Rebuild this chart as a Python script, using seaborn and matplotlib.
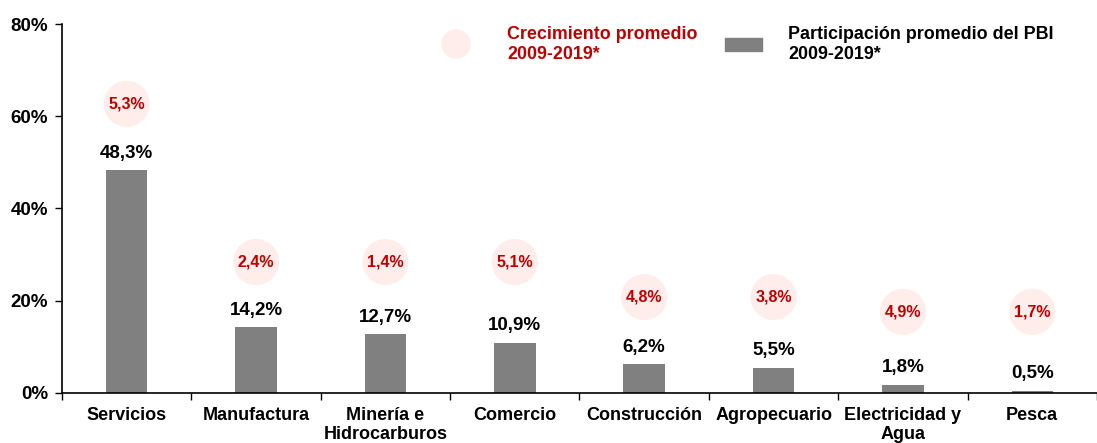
import matplotlib
matplotlib.use("Agg")
import matplotlib.pyplot as plt
import seaborn as sns
import pandas as pd
from matplotlib.ticker import FixedLocator, PercentFormatter
from matplotlib.patches import Rectangle

categories = ["Servicios", "Manufactura", "Minería e\nHidrocarburos", "Comercio",
              "Construcción", "Agropecuario", "Electricidad y\nAgua", "Pesca"]
participacion = [48.3, 14.2, 12.7, 10.9, 6.2, 5.5, 1.8, 0.5]
crecimiento = [5.3, 2.4, 1.4, 5.1, 4.8, 3.8, 4.9, 1.7]
# vertical placement of the growth bubbles (in % units of the axis)
bubble_y = [62.7, 28.4, 28.4, 28.4, 20.8, 20.8, 17.6, 17.6]

def fmt(v):
    return f"{v:.1f}%".replace(".", ",")

sns.set_theme(style="white")
plt.rcParams["font.family"] = ["Liberation Sans", "DejaVu Sans"]
plt.rcParams["font.weight"] = "bold"
plt.rcParams["text.color"] = "black"
plt.rcParams["xtick.color"] = "black"
plt.rcParams["ytick.color"] = "black"

GRAY = "#808080"
PINK = "#FEEDEB"
RED = "#C00000"

df = pd.DataFrame({"cat": categories, "part": participacion,
                   "crec": crecimiento, "by": bubble_y})

fig = plt.figure(figsize=(10.97, 4.43), dpi=100)
ax = fig.add_axes([0.0565, 0.1129, 0.9435, 0.8329])

sns.barplot(data=df, x="cat", y="part", color=GRAY, width=0.32, ax=ax,
            saturation=1, edgecolor="none")
sns.scatterplot(data=df, x="cat", y="by", s=1100, color=PINK, edgecolor="none",
                ax=ax, legend=False, zorder=3)

for i, (p, c, b) in enumerate(zip(participacion, crecimiento, bubble_y)):
    ax.annotate(fmt(p), (i, p), xytext=(0, 6), textcoords="offset points",
                ha="center", va="bottom", fontsize=13.5, fontweight="bold", color="black")
    ax.text(i, b, fmt(c), ha="center", va="center", fontsize=11.5,
            fontweight="bold", color=RED, zorder=4)

ax.set_xlim(-0.5, 7.5)
ax.set_ylim(0, 80)
ax.yaxis.set_major_locator(FixedLocator([0, 20, 40, 60, 80]))
ax.yaxis.set_major_formatter(PercentFormatter(decimals=0))
ax.set_xlabel("")
ax.set_ylabel("")

ax.tick_params(axis="x", which="major", length=0, pad=10, labelsize=13, labelcolor="black")
ax.xaxis.set_minor_locator(FixedLocator([i + 0.5 for i in range(-1, 8)]))
ax.tick_params(axis="x", which="minor", length=5, width=1, color="black", direction="out")
ax.tick_params(axis="y", length=5, width=1, color="black", direction="out",
               labelsize=13.5, pad=5, labelcolor="black")
ax.tick_params(left=True, bottom=True, which="both")
for lbl in ax.get_xticklabels() + ax.get_yticklabels():
    lbl.set_fontweight("bold")
    lbl.set_linespacing(1.15)

sns.despine(ax=ax)
for s in ["left", "bottom"]:
    ax.spines[s].set_color("black")
    ax.spines[s].set_linewidth(1.2)

# legend
fig_w, fig_h = 1097, 443
ax.scatter([456 / fig_w], [1 - 44 / fig_h], s=450, color=PINK, edgecolor="none",
           transform=fig.transFigure, clip_on=False)
fig.text(507 / fig_w, 1 - 26 / fig_h, "Crecimiento promedio\n2009-2019*", color=RED,
         fontsize=12.9, fontweight="bold", va="top", ha="left", linespacing=1.2)
fig.add_artist(Rectangle((725 / fig_w, 1 - 51 / fig_h), 37 / fig_w, 13 / fig_h,
                         transform=fig.transFigure, color=GRAY))
fig.text(788 / fig_w, 1 - 26 / fig_h, "Participación promedio del PBI\n2009-2019*",
         color="black", fontsize=12.9, fontweight="bold", va="top", ha="left",
         linespacing=1.2)

fig.savefig("out.png", dpi=100)
